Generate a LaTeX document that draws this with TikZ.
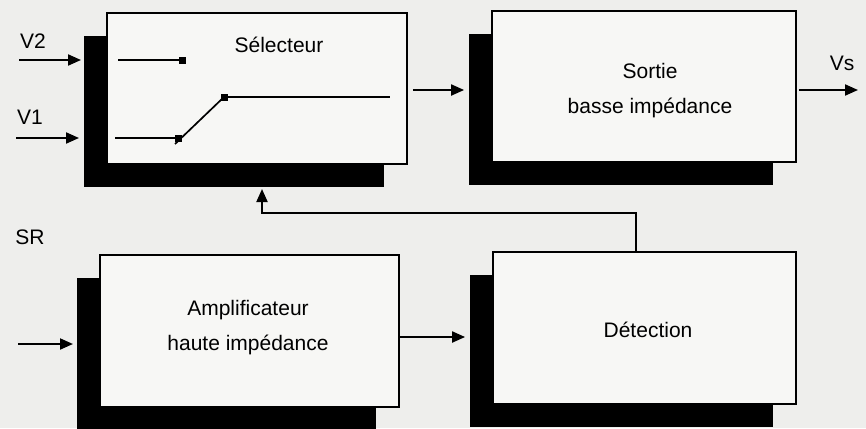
\documentclass[tikz,border=0pt]{standalone}
\usepackage{fontspec}
\setmainfont{Liberation Sans}
\usetikzlibrary{shadows,arrows.meta,calc}
\definecolor{bgc}{RGB}{238,238,236}
\definecolor{boxc}{RGB}{247,247,245}
\begin{document}
\begin{tikzpicture}[x=1pt,y=-1pt,
  blk/.style={draw=black, line width=1.8pt, fill=boxc, inner sep=0pt,
    general shadow={fill=black, shadow xshift=-23pt, shadow yshift=-23pt}},
  txt/.style={font=\fontsize{21}{35}\selectfont, align=center, inner sep=0pt},
  arr/.style={line width=2pt, -{Triangle[length=13pt,width=11pt]}},
  wire/.style={line width=1.7pt},
  pad/.style={fill=black, minimum size=7pt, inner sep=0pt}]
\fill[bgc] (0,0) rectangle (866,428);
\useasboundingbox (0,0) rectangle (866,428);
% blocks
\node[blk, minimum width=300pt, minimum height=151pt] (sel) at (257,88.5) {};
\node[blk, minimum width=304pt, minimum height=151pt] (sor) at (644,86.5) {};
\node[blk, minimum width=299pt, minimum height=152pt] (amp) at (249.5,331) {};
\node[blk, minimum width=303pt, minimum height=152pt] (det) at (644.5,328) {};
% texts
\node[txt] (tsel) at (279,45) {Sélecteur};
\node[txt] (tsor) at (650,90.5) {Sortie\\basse impédance};
\node[txt] (tamp) at (248,327.5) {Amplificateur\\haute impédance};
\node[txt] (tdet) at (648,330) {Détection};
\node[txt] (lv2) at (33,41) {V2};
\node[txt] (lv1) at (30,117) {V1};
\node[txt] (lsr) at (30,237) {SR};
\node[txt] (lvs) at (842,63) {Vs};
% switch
\node[pad] (p2) at (182,60) {};
\node[pad] (p1) at (178,138) {};
\node[pad] (pc) at (224,97) {};
\coordinate (w2) at (118,60);
\coordinate (w1) at (115,138);
\coordinate (wo) at (390,96);
\draw[wire] (w2) -- (p2.center);
\draw[wire] (w1) -- (p1.center);
\draw[wire] ([shift={(-3,6)}]p1.center) -- (pc.center);
\draw[wire] (pc.center) -- (pc.center -| wo);
% input arrows
\coordinate (v2s) at (19,60);
\coordinate (v2e) at (81,60);
\coordinate (v1s) at (16,138);
\coordinate (v1e) at (79,138);
\coordinate (srs) at (18,344);
\coordinate (sre) at (73,344);
\draw[arr] (v2s) -- (v2e);
\draw[arr] (v1s) -- (v1e);
\draw[arr] (srs) -- (sre);
% connections
\draw[arr] ([shift={(5,1.5)}]sel.east) -- ([shift={(-27,3.5)}]sor.west);
\coordinate (vse) at (858,90);
\draw[arr] ([shift={(2,3.5)}]sor.east) -- (vse);
\draw[arr] ([shift={(0,6)}]amp.east) -- ([shift={(-27,9)}]det.west);
\coordinate (fbc) at (636,213);
\coordinate (fbt) at (262,189);
\draw[arr] (det.north -| fbc) -- (fbc) -| (fbt);
\end{tikzpicture}
\end{document}
